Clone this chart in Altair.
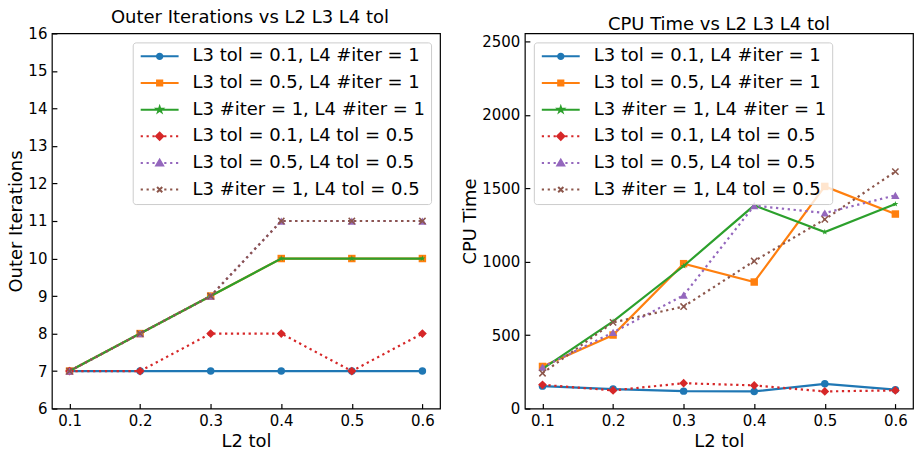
import altair as alt
import pandas as pd

# ---------------- data ----------------
L2_TOL = [0.1, 0.2, 0.3, 0.4, 0.5, 0.6]
SERIES = [
    "L3 tol = 0.1, L4 #iter = 1",
    "L3 tol = 0.5, L4 #iter = 1",
    "L3 #iter = 1, L4 #iter = 1",
    "L3 tol = 0.1, L4 tol = 0.5",
    "L3 tol = 0.5, L4 tol = 0.5",
    "L3 #iter = 1, L4 tol = 0.5",
]
OUTER_ITER = [
    [7, 7, 7, 7, 7, 7],
    [7, 8, 9, 10, 10, 10],
    [7, 8, 9, 10, 10, 10],
    [7, 7, 8, 8, 7, 8],
    [7, 8, 9, 11, 11, 11],
    [7, 8, 9, 11, 11, 11],
]
CPU_TIME = [
    [153, 133, 119, 117, 169, 129],
    [287, 501, 987, 862, 1513, 1325],
    [271, 594, 971, 1384, 1203, 1393],
    [162, 124, 173, 158, 117, 124],
    [282, 519, 772, 1382, 1332, 1452],
    [241, 587, 695, 1005, 1289, 1614],
]
ITER_TICKS = [6, 7, 8, 9, 10, 11, 12, 13, 14, 15, 16]
CPU_TICKS = [0, 500, 1000, 1500, 2000, 2500]

# ---------------- styles ----------------
COLORS = ["#1f77b4", "#ff7f0e", "#2ca02c", "#d62728", "#9467bd", "#8c564b"]
DOTTED = [False, False, False, True, True, True]
FONT = "DejaVu Sans"

STAR_PTS = [(0, -1), (0.225, -0.309), (0.951, -0.309), (0.363, 0.118), (0.588, 0.809),
            (0, 0.382), (-0.588, 0.809), (-0.363, 0.118), (-0.951, -0.309), (-0.225, -0.309)]


def scale_path(pts, s):
    return "M" + "L".join(f"{x*s:.3f},{y*s:.3f}" for x, y in pts) + "Z"


STAR = scale_path(STAR_PTS, 1.0)
XMARK = "M-1,-1L1,1M-1,1L1,-1"
MARKERS = [
    dict(shape="circle", size=56, filled=True),
    dict(shape="square", size=56, filled=True),
    dict(shape=STAR, size=40, filled=True),
    dict(shape="diamond", size=78, filled=True),
    dict(shape="triangle-up", size=70, filled=True),
    dict(shape=XMARK, size=40, filled=False, strokeWidth=1.5),
]

# legend symbol paths (units of sqrt(symbolSize)/2 = 4px)
HALF = 4.75


def legend_line(dotted):
    if not dotted:
        return f"M{-HALF},0H{HALF}"
    segs, x = [], -HALF
    while x < HALF:
        segs.append(f"M{x:.3f},0H{min(x + 0.55, HALF):.3f}")
        x += 1.475
    return "".join(segs)


LEG_MARK = [
    "M-0.68,0A0.68,0.68 0 1,0 0.68,0A0.68,0.68 0 1,0 -0.68,0Z",
    "M-0.65,-0.65H0.65V0.65H-0.65Z",
    scale_path(STAR_PTS, 0.7),
    "M-0.9,0L0,-0.9L0.9,0L0,0.9Z",
    "M0,-0.8L0.85,0.62L-0.85,0.62Z",
    "M-0.65,-0.65L0.65,0.65M-0.65,0.65L0.65,-0.65",
]
LEGEND_PATHS = [legend_line(d) + m for d, m in zip(DOTTED, LEG_MARK)]

# ---------------- table ----------------
rows = []
for s, it, cpu in zip(SERIES, OUTER_ITER, CPU_TIME):
    for x, a, b in zip(L2_TOL, it, cpu):
        rows.append({"series": s, "l2": x, "iter": a, "cpu": b})
df = pd.DataFrame(rows)

X_DOMAIN = [0.075, 0.625]


def axis(values, fmt, title, **kw):
    return alt.Axis(values=values, format=fmt, title=title, offset=-5, tickSize=5,
                    tickWidth=1.2, tickColor="black", domain=False, grid=False,
                    labelFont=FONT, labelFontSize=15, labelColor="black",
                    labelFlush=False, labelPadding=5, titleFont=FONT, titleFontSize=18,
                    titleFontWeight="normal", titleColor="black", **kw)


def panel(field, ydomain, yticks, ytitle, title, legend_orient, title_dx):
    x = alt.X("l2:Q", scale=alt.Scale(domain=X_DOMAIN, nice=False, zero=False),
              axis=axis(L2_TOL, ".1f", "L2 tol", titlePadding=4))
    y = alt.Y(f"{field}:Q", scale=alt.Scale(domain=ydomain, nice=False, zero=False),
              axis=axis(yticks, "d", ytitle, titlePadding=2))
    layers = []
    for i, s in enumerate(SERIES):
        base = alt.Chart(df).transform_filter(alt.datum.series == s)
        line_kw = dict(color=COLORS[i], strokeWidth=2.2)
        if DOTTED[i]:
            line_kw["strokeDash"] = [2.3, 3.6]
        layers.append(base.mark_line(**line_kw).encode(x=x, y=y))
        layers.append(base.mark_point(color=COLORS[i], opacity=1, **MARKERS[i]).encode(x=x, y=y))
    leg = alt.Legend(title=None, orient=legend_orient, offset=9, padding=5,
                     fillColor="rgba(255,255,255,0.8)", strokeColor="#cccccc",
                     cornerRadius=3, labelFont=FONT, labelFontSize=18, labelColor="black",
                     symbolSize=64, symbolStrokeWidth=2, symbolOffset=13, labelOffset=24,
                     symbolFillColor="#000000", symbolStrokeColor="#000000",
                     rowPadding=8.7, labelLimit=400)
    legend_layer = alt.Chart(df).transform_filter("false").mark_point(
        filled=True, opacity=1).encode(
        fill=alt.Fill("series:N", scale=alt.Scale(domain=SERIES, range=COLORS), legend=leg),
        stroke=alt.Stroke("series:N", scale=alt.Scale(domain=SERIES, range=COLORS), legend=leg),
        shape=alt.Shape("series:N", scale=alt.Scale(domain=SERIES, range=LEGEND_PATHS), legend=leg),
    )
    layers.append(legend_layer)
    return alt.layer(*layers).properties(
        width=389, height=376,
        title=alt.TitleParams(title, font=FONT, fontSize=18, fontWeight="normal",
                              color="black", anchor="middle", offset=-1, dx=title_dx),
    )


left = panel("iter", [6, 16], ITER_TICKS, "Outer Iterations",
             "Outer Iterations vs L2 L3 L4 tol", "top-right", 4)
right = panel("cpu", [0, 2555], CPU_TICKS, "CPU Time",
              "CPU Time vs L2 L3 L4 tol", "top-left", 0)

chart = alt.hconcat(left, right, spacing=20).resolve_scale(
    fill="independent", stroke="independent", shape="independent"
).resolve_legend(fill="independent", stroke="independent", shape="independent").properties(
    padding={"left": 7, "top": 8, "right": 0, "bottom": 0}, background="white"
).configure_view(stroke="black", strokeWidth=1.2)

chart.save("out.html", embed_options={"renderer": "svg", "actions": False})
